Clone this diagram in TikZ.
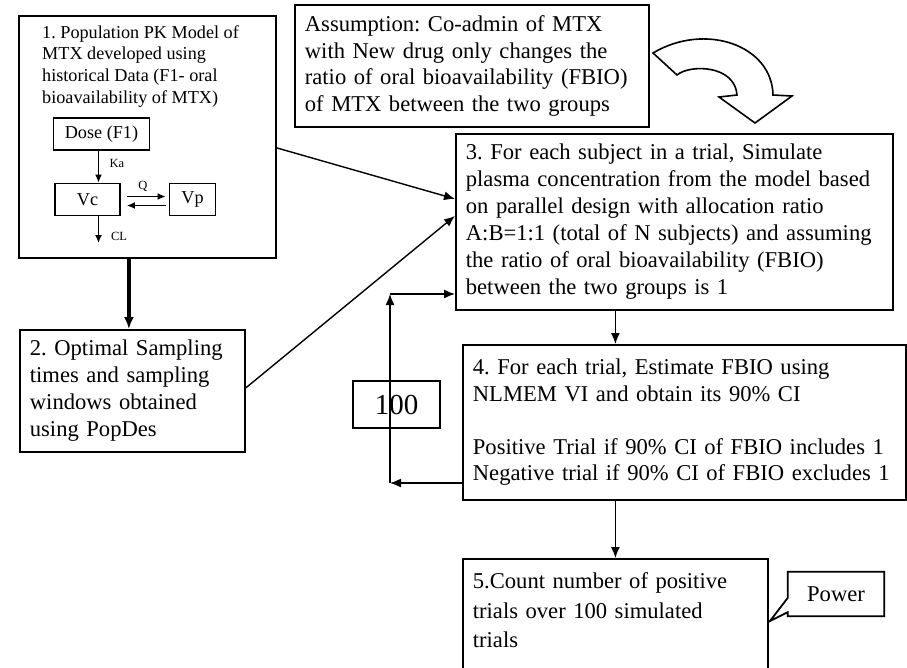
\documentclass[tikz,border=0pt]{standalone}
\usepackage{fontspec}
\setmainfont{Liberation Serif}
\usetikzlibrary{arrows.meta,positioning}
\newcommand{\bigfs}{\fontsize{22.6}{27}\selectfont}
\newcommand{\pkfs}{\fontsize{18.2}{21.7}\selectfont}
\newcommand{\ratefs}{\fontsize{12.5}{14}\selectfont}
\frenchspacing

\begin{document}
\begin{tikzpicture}[x=1pt,y=-1pt,line join=miter]
	\tikzstyle{stage}=[draw, line width=1.8pt, anchor=north west, align=left, inner xsep=10pt, inner ysep=0pt, font=\bigfs]
	\tikzstyle{comp}=[draw, line width=1.8pt, inner sep=0pt, font=\pkfs]
	\tikzstyle{flow}=[-{Latex[length=11pt,width=9pt]}, line width=1.4pt]
	\tikzstyle{pkflow}=[-{Latex[length=8pt,width=7pt]}, line width=1.4pt]
	\tikzstyle{rate}=[font=\ratefs, inner sep=0pt]

	\useasboundingbox (0,0) rectangle (907,667);

	% Step 1: the PK model box with its compartments
	\node[draw, line width=1.8pt, anchor=north west, minimum width=257pt, minimum height=242pt, inner sep=0pt] (pk) at (18,15) {};
	\node[anchor=north west, align=left, inner sep=0pt, font=\pkfs] (pktitle) at (42,25)
	{1. Population PK Model of\\MTX developed using\\historical Data (F1- oral\\bioavailability of MTX)};
	\node[comp, minimum width=96pt, minimum height=32pt] (dose) at (101.5,134) {Dose (F1)};
	\node[comp, minimum width=65pt, minimum height=32pt] (vc) at (87.5,199.5) {Vc};
	\node[comp, minimum width=46pt, minimum height=32pt] (vp) at (192.5,199.5) {Vp};
	\node[rate] (ka) at (117,163) {Ka};
	\node[rate] (q) at (143,186) {Q};
	\node[rate] (cl) at (119,236) {CL};
	\coordinate (clend) at (98.5,243);

	\draw[pkflow] ([xshift=-3pt]dose.south) -- ([xshift=-3pt]dose.south |- vc.north);
	\draw[pkflow, shorten <=6pt, shorten >=3pt] ([yshift=3pt]vc.east) -- ([yshift=3pt]vp.west);
	\draw[pkflow, shorten <=3pt, shorten >=6pt] ([yshift=-6pt]vp.west) -- ([yshift=-6pt]vc.east);
	\draw[pkflow] (vc.south -| clend) -- (clend);

	% Steps 2 to 5
	\node[stage, text width=205pt, minimum height=122pt] (b2) at (19,329)
	{2. Optimal Sampling\\times and sampling\\windows obtained\\using PopDes};
	\node[stage, text width=334pt, minimum height=122pt, font=\fontsize{22.6}{26.5}\selectfont] (assume) at (294,4)
	{Assumption: Co-admin of MTX\\with New drug only changes the\\ratio of oral bioavailability (FBIO)\\of MTX between the two groups};
	\node[stage, text width=417pt, minimum height=176pt] (b3) at (455,133)
	{3. For each subject in a trial, Simulate\\plasma concentration from the model based\\on parallel design with allocation ratio\\A:B=1:1 (total of N subjects) and assuming\\the ratio of oral bioavailability (FBIO)\\between the two groups is 1};
	\node[stage, text width=423pt, minimum height=155pt, font=\fontsize{22.6}{26.5}\selectfont] (b4) at (462,344)
	{4. For each trial, Estimate FBIO using\\NLMEM VI and obtain its 90\% CI\\[26.5pt]Positive Trial if 90\% CI of FBIO includes 1\\Negative trial if 90\% CI of FBIO excludes 1};
	\node[stage, text width=285pt, minimum height=132pt, font=\fontsize{22.6}{29.5}\selectfont] (b5) at (462,558)
	{5.Count number of positive\\trials over 100 simulated\\trials\\\mbox{}};

	% Power callout
	\node[font=\bigfs, minimum width=96pt, minimum height=44pt, inner sep=0pt] (power) at (836,594) {Power};
	\coordinate (powtip) at (770,621);
	\draw[line width=1.8pt] ([yshift=4pt]power.south west) -- (power.south west) -- (power.south east)
	-- (power.north east) -- (power.north west) -- ([yshift=-26pt]power.north west) -- (powtip) -- cycle;

	% Number of trials and the loop
	\node[draw, line width=1.8pt, font=\fontsize{29}{29}\selectfont, minimum width=87pt, minimum height=47pt, inner sep=0pt] (reps) at (396.5,404.5) {100};
	\coordinate (loopbot) at (390,483);
	\coordinate (looptop) at (390,294);
	\draw[flow] (b4.west |- loopbot) -- (loopbot);
	\draw[flow] (loopbot) -- (looptop);
	\draw[flow] (looptop) -- (looptop -| b3.west);

	% Connect the steps
	\draw[-{Latex[length=12pt,width=10pt]}, line width=3.5pt] ([xshift=-3.5pt]b2.north |- pk.south) -- ([xshift=-3.5pt]b2.north);
	\draw[flow] ([yshift=-11pt]pk.east) -- ([yshift=23pt]b3.west);
	\draw[flow] ([yshift=3pt]b2.east) -- ([yshift=6pt]b3.west);
	\draw[flow] (b3.south -| b5.north) -- (b4.north -| b5.north);
	\draw[flow] (b4.south -| b5.north) -- (b5.north);

	% Curved block arrow from the assumption
	\draw[line width=1.6pt] (653,53) -- (677,75) .. controls (690,64) and (735,65) .. (737,95) -- (719,97)
	-- (755,123) -- (792,96) -- (773,95) .. controls (772,45) and (705,22) .. (653,53) -- cycle;

\end{tikzpicture}
\end{document}
